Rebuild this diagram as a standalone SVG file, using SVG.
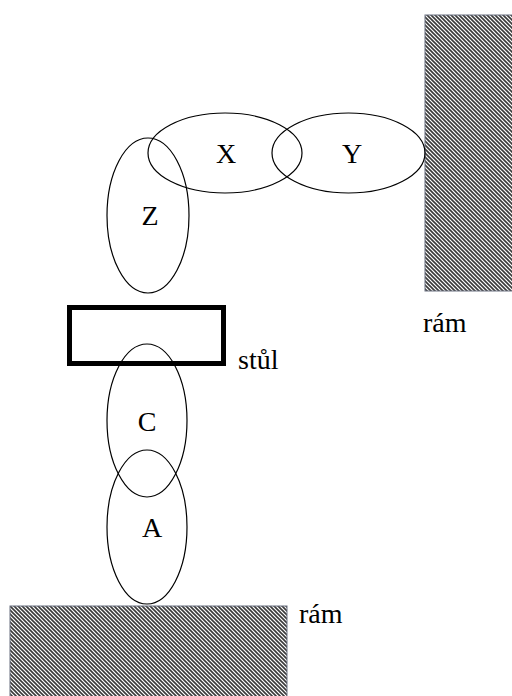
<svg xmlns="http://www.w3.org/2000/svg" width="512" height="696" viewBox="0 0 512 696">
<defs>
<pattern id="hatch" patternUnits="userSpaceOnUse" width="4" height="4">
<rect width="4" height="4" fill="#ffffff"/>
<path d="M-1,-1 L5,5 M-1,3 L1,5 M3,-1 L5,1" stroke="#3a3a3a" stroke-width="1.6"/>
</pattern>
<style>
.link{fill:none;stroke:#000;stroke-width:1.2}
.frame{fill:url(#hatch);stroke:#6a7080;stroke-width:1}
text{font-family:'Liberation Serif','DejaVu Serif',serif;font-size:28px;fill:#000}
</style>
</defs>
<g id="frame-right">
<rect class="frame" x="425" y="15" width="92" height="276"/>
<text x="423" y="332" font-family="Liberation Serif, serif">rám</text>
</g>
<g id="frame-bottom">
<rect class="frame" x="10" y="606" width="277" height="95"/>
<text x="299" y="623" font-family="Liberation Serif, serif">rám</text>
</g>
<g id="table">
<rect x="69.5" y="307.5" width="154" height="56" fill="none" stroke="#000" stroke-width="5"/>
<text x="238" y="369" font-family="Liberation Serif, serif">stůl</text>
</g>
<g id="connectors">
<ellipse id="node-X" class="link" cx="225" cy="153" rx="77" ry="40"/>
<ellipse id="node-Y" class="link" cx="348.5" cy="153" rx="76.5" ry="40"/>
<ellipse id="node-Z" class="link" cx="148" cy="215.5" rx="41" ry="77.5"/>
<ellipse id="node-C" class="link" cx="147" cy="420.5" rx="40" ry="76.5"/>
<ellipse id="node-A" class="link" cx="147" cy="527" rx="40" ry="77"/>
</g>
<g id="labels" font-family="Liberation Serif, serif">
<text x="226" y="163" text-anchor="middle">X</text>
<text x="352" y="163" text-anchor="middle">Y</text>
<text x="150" y="225" text-anchor="middle">Z</text>
<text x="147" y="431" text-anchor="middle">C</text>
<text x="152" y="537" text-anchor="middle">A</text>
</g>
</svg>
